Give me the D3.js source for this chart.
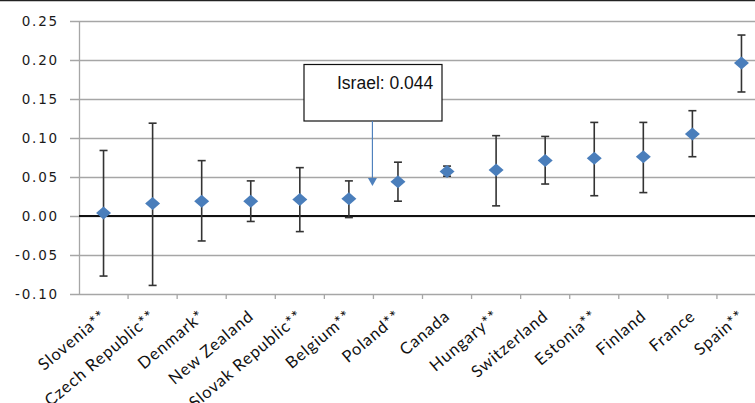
<!DOCTYPE html>
<html>
<head>
<meta charset="utf-8">
<script src="https://cdn.jsdelivr.net/npm/d3@7"></script>
<style>
  body { margin: 0; background: #fff; }
  svg { display: block; }
  .y-axis text { font-family: "DejaVu Sans", sans-serif; font-size: 13.5px; letter-spacing: 1.8px; fill: #1a1a1a; }
  .x-axis text { font-family: Lato, sans-serif; font-size: 16.5px; letter-spacing: 0.9px; fill: #111; }
</style>
</head>
<body>
<div class="chart"></div>
<script>
// data ------
const countries = ["Slovenia**", "Czech Republic**", "Denmark*", "New Zealand", "Slovak Republic**",
  "Belgium**", "Poland**", "Canada", "Hungary**", "Switzerland", "Estonia**", "Finland", "France", "Spain**"];
const estimate = [0.004, 0.016, 0.019, 0.019, 0.021, 0.022, 0.044, 0.057, 0.059, 0.071, 0.074, 0.076, 0.105, 0.196];
const upper = [0.084, 0.119, 0.071, 0.045, 0.062, 0.045, 0.069, 0.064, 0.103, 0.102, 0.120, 0.120, 0.135, 0.232];
const lower = [-0.077, -0.089, -0.032, -0.007, -0.020, -0.002, 0.019, 0.051, 0.013, 0.041, 0.026, 0.030, 0.076, 0.159];
const yTicks = [-0.10, -0.05, 0.00, 0.05, 0.10, 0.15, 0.20, 0.25];
const note = {country: "Poland**", text: "Israel: 0.044"};

const data = countries.map((c, i) => ({country: c, est: estimate[i], hi: upper[i], lo: lower[i]}));

const W = 755, H = 403;
const margin = ({top: 21, left: 79});
const plotW = 687, plotH = 273;

const svg = d3.select('.chart')
  .append('svg')
  .attr("width", W)
  .attr("height", H);

const xScale = d3.scaleBand()
  .domain(countries)
  .range([margin.left, margin.left + plotW]);

const yScale = d3.scaleLinear()
  .domain([-0.10, 0.25])
  .range([margin.top + plotH, margin.top]);

// top frame line
svg.append("line")
  .attr("x1", 0).attr("x2", W)
  .attr("y1", 0.5).attr("y2", 0.5)
  .attr("stroke", "#222").attr("stroke-width", 1.5);

// gridlines
svg.append("g")
  .selectAll("line")
  .data(yTicks)
  .join("line")
  .attr("x1", margin.left - 9)
  .attr("x2", W)
  .attr("y1", d => Math.round(yScale(d)) + 0.5)
  .attr("y2", d => Math.round(yScale(d)) + 0.5)
  .attr("stroke", "#a6a6a6")
  .attr("stroke-width", 1.3);

// y axis
const yAxis = d3.axisLeft(yScale)
  .tickValues(yTicks)
  .tickFormat(d3.format(".2f"))
  .tickSize(0)
  .tickPadding(20);

svg.append("g")
  .attr("class", "axis y-axis")
  .attr("transform", `translate(${margin.left},0)`)
  .call(yAxis)
  .call(g => g.select(".domain").attr("stroke", "#a6a6a6").attr("stroke-width", 1.3))
  .call(g => g.selectAll("text").text(d => d3.format(".2f")(d).replace("−", "-")));

// x axis ticks at band edges
svg.append("g")
  .selectAll("line")
  .data(countries)
  .join("line")
  .attr("x1", d => xScale(d) + xScale.bandwidth())
  .attr("x2", d => xScale(d) + xScale.bandwidth())
  .attr("y1", yScale(-0.10))
  .attr("y2", yScale(-0.10) + 5)
  .attr("stroke", "#a6a6a6")
  .attr("stroke-width", 1.3);

svg.append("g")
  .attr("class", "x-axis")
  .selectAll("text")
  .data(countries)
  .join("text")
  .attr("text-anchor", "end")
  .attr("transform", d => `translate(${xScale(d) + xScale.bandwidth() / 2 + 4},${yScale(-0.10) + 24}) rotate(-40)`)
  .text(d => d);

// zero line
svg.append("line")
  .attr("x1", margin.left).attr("x2", W)
  .attr("y1", yScale(0)).attr("y2", yScale(0))
  .attr("stroke", "#111").attr("stroke-width", 2);

// error bars
const cx = d => xScale(d.country) + xScale.bandwidth() / 2;
const bars = svg.append("g").selectAll("g").data(data).join("g")
  .attr("stroke", "#333").attr("stroke-width", 1.6);
bars.append("line")
  .attr("x1", cx).attr("x2", cx)
  .attr("y1", d => yScale(d.hi)).attr("y2", d => yScale(d.lo));
bars.append("line")
  .attr("x1", d => cx(d) - 4).attr("x2", d => cx(d) + 4)
  .attr("y1", d => yScale(d.hi)).attr("y2", d => yScale(d.hi));
bars.append("line")
  .attr("x1", d => cx(d) - 4).attr("x2", d => cx(d) + 4)
  .attr("y1", d => yScale(d.lo)).attr("y2", d => yScale(d.lo));

// markers
svg.append("g").selectAll("path").data(data).join("path")
  .attr("d", d => {
    const x = cx(d), y = yScale(d.est);
    return `M${x - 7.5},${y} L${x},${y - 6.5} L${x + 7.5},${y} L${x},${y + 6.5} Z`;
  })
  .attr("fill", "#4a7ebb");

// annotation
const ax = xScale(note.country) - 1;
svg.append("rect")
  .attr("x", 304).attr("y", 64.5)
  .attr("width", 138).attr("height", 56.5)
  .attr("fill", "#fff").attr("stroke", "#111").attr("stroke-width", 1.2);
svg.append("text")
  .attr("x", 337).attr("y", 89)
  .attr("font-family", "Liberation Sans, Arial, sans-serif")
  .attr("font-size", 17.5)
  .attr("fill", "#111")
  .text(note.text);
svg.append("line")
  .attr("x1", ax).attr("x2", ax)
  .attr("y1", 121).attr("y2", 180)
  .attr("stroke", "#4f81bd").attr("stroke-width", 1.2);
svg.append("path")
  .attr("d", `M${ax - 4.5},${178} L${ax + 4.5},${178} L${ax},${186} Z`)
  .attr("fill", "#4f81bd");
</script>
</body>
</html>
